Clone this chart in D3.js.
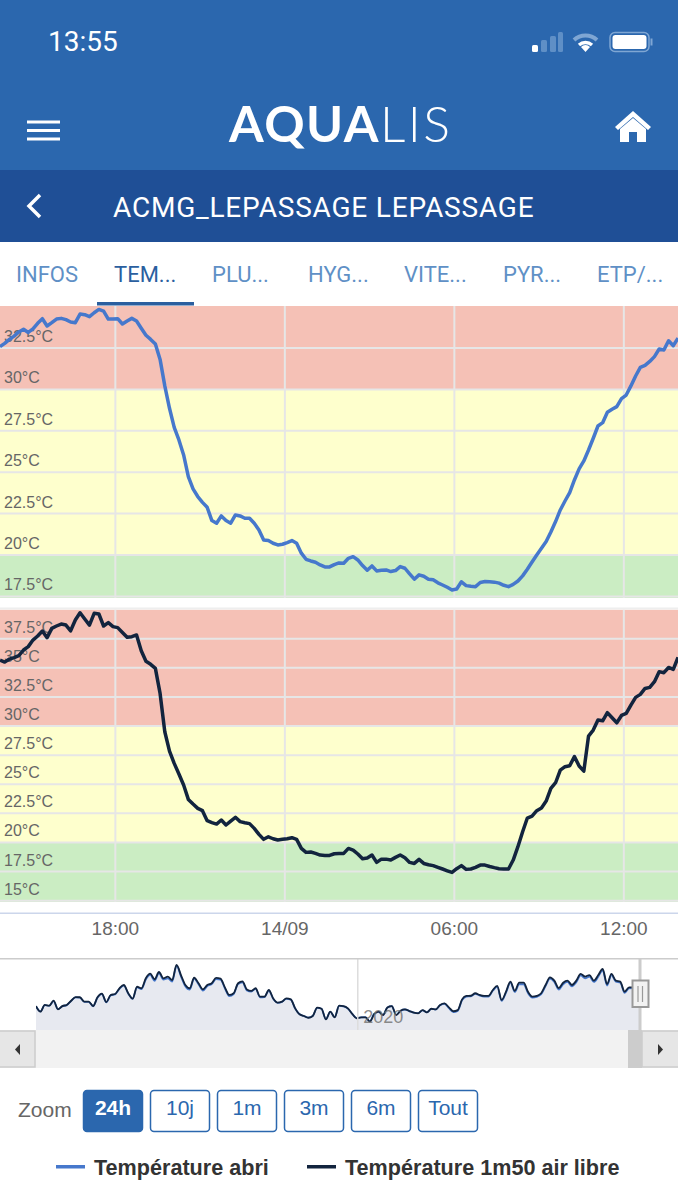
<!DOCTYPE html>
<html>
<head>
<meta charset="utf-8">
<script src="https://cdn.jsdelivr.net/npm/d3@7"></script>
<style>
html, body { margin: 0; padding: 0; background: #fff; }
svg { display: block; }
text { font-family: "Liberation Sans", Arial, sans-serif; }
.domain { display: none; }
</style>
</head>
<body>
<svg width="678" height="1200"></svg>
<script>
//Temperature every 10 minutes, from 13/09 13:55 to 14/09 13:55.
var tempAbri = [
	32.58,32.78,33.02,33.22,33.47,33.63,33.44,33.65,33.99,34.27,33.83,34.03,34.25,34.29,34.21,34.07,34.03,34.55,34.51,34.39,
	34.63,34.83,34.73,34.25,34.25,34.27,33.95,34.13,34.29,34.13,33.69,33.27,33.02,32.74,31.81,30.21,28.86,27.71,26.95,26.04,
	24.73,23.99,23.53,23.18,22.88,22.08,21.92,22.36,22.08,21.92,22.42,22.36,22.22,22.22,21.92,21.51,20.91,20.87,20.71,20.61,
	20.65,20.75,20.87,20.71,20.11,19.74,19.64,19.56,19.40,19.28,19.28,19.42,19.52,19.50,19.80,19.90,19.70,19.36,19.08,19.34,
	19.04,19.08,19.10,19.00,19.06,19.30,19.20,18.86,18.54,18.80,18.72,18.54,18.50,18.32,18.19,18.05,17.89,17.95,18.38,18.15,
	18.11,18.09,18.34,18.40,18.38,18.36,18.30,18.17,18.09,18.23,18.43,18.74,19.14,19.58,20.00,20.41,20.81,21.39,22.02,22.72,
	23.26,23.77,24.53,25.20,25.68,26.34,27.05,27.79,27.99,28.62,28.80,28.96,29.44,29.66,30.21,30.81,31.33,31.45,31.69,31.98,
	32.44,32.38,32.94,32.64,33.10];
var tempAirLibre = [
	35.66,35.49,35.75,35.87,36.04,36.53,36.82,37.38,37.73,38.16,37.59,38.39,38.59,38.76,38.67,38.18,39.10,39.73,39.19,38.67,
	39.68,39.62,38.59,38.88,38.54,38.45,38.04,37.62,37.67,37.82,36.47,35.56,35.30,34.95,32.80,29.51,27.85,26.79,25.88,24.94,
	23.70,23.30,22.93,22.73,21.87,21.70,21.58,21.93,21.50,21.84,22.16,21.79,21.70,21.62,21.21,20.70,20.27,20.49,20.32,20.21,
	20.27,20.32,20.41,20.27,19.49,19.15,19.18,19.06,18.92,18.89,18.89,19.03,19.06,19.06,19.49,19.35,19.01,18.61,18.66,18.92,
	18.29,18.57,18.57,18.49,18.72,18.92,18.69,18.29,18.20,18.55,18.20,18.09,18.01,17.86,17.72,17.57,17.43,17.75,18.01,17.69,
	17.72,17.86,18.06,18.06,17.94,17.84,17.75,17.72,17.72,18.49,19.64,20.92,22.10,22.27,22.73,22.96,23.56,24.65,25.13,26.22,
	26.51,26.59,27.37,26.57,26.13,29.14,29.65,30.52,30.45,31.15,30.71,30.28,30.91,31.08,31.80,32.46,32.72,33.23,33.32,33.81,
	34.67,34.58,35.03,34.86,35.90];
//Navigator: one reading every 4 days, from 14/03/2019.
var navAirLibre = [
	17.5,14.6,18.1,17.7,20.3,15.8,17.5,18.1,20.3,22.2,22.1,19.8,19.8,17.5,22.1,24.0,19.6,23.3,23.8,26.8,
	28.5,24.2,21.4,27.6,26.8,32.0,34.4,31.5,35.3,32.0,32.9,31.1,39.0,33.7,28.5,26.8,32.3,29.4,26.2,28.5,
	29.4,32.2,31.8,27.3,23.3,24.2,29.4,30.4,26.2,25.4,26.8,22.4,22.4,25.9,21.5,19.3,19.8,21.5,21.0,16.3,
	13.2,12.3,11.4,12.3,16.7,16.1,10.6,14.6,11.6,17.7,17.5,16.3,13.4,11.1,11.6,11.6,9.4,13.4,14.6,12.8,
	16.8,17.5,12.8,15.1,15.8,14.9,14.1,13.7,15.4,14.2,16.1,15.8,18.1,18.9,16.8,14.8,15.4,21.0,22.8,22.9,
	24.2,23.3,22.8,22.8,25.9,28.0,20.7,25.0,30.3,25.5,29.7,29.7,25.0,22.4,22.8,24.2,28.5,32.5,30.8,26.9,
	29.7,30.8,28.5,30.8,34.3,32.9,33.7,30.8,33.7,36.9,29.0,34.3,30.8,30.3,25.0,27.3,27.3,26.8,26.5];
var navAbri = [
	17.4,14.7,18.0,17.6,20.1,15.9,17.4,18.0,20.2,22.0,21.9,19.7,19.7,17.4,21.9,23.8,19.5,23.1,23.6,26.5,
	28.2,24.0,21.3,27.3,26.4,31.4,33.8,30.7,34.7,31.3,32.0,30.3,38.6,33.0,27.9,26.1,31.9,28.9,25.6,28.0,
	29.0,31.6,31.3,26.8,22.7,23.8,29.0,29.9,25.7,25.1,26.5,22.1,22.2,25.6,21.3,19.2,19.7,21.3,20.9,16.2,
	13.2,12.3,11.5,12.3,16.6,16.1,10.7,14.5,11.7,17.6,17.4,16.2,13.4,11.2,11.6,11.7,9.6,13.3,14.5,12.8,
	16.7,17.4,12.9,15.0,15.7,14.9,14.1,13.8,15.3,14.2,16.0,15.7,17.9,18.7,16.4,14.4,15.0,20.6,22.5,22.6,
	23.9,23.0,22.5,22.5,25.5,27.5,20.2,24.5,29.7,24.9,28.9,28.9,24.3,21.9,22.3,23.7,27.9,31.8,30.1,26.1,
	28.9,30.1,27.8,30.0,33.5,32.0,32.9,30.1,32.8,36.2,28.2,33.7,30.2,29.8,24.4,26.8,26.9,26.4,26.1];

var tickTimes = [new Date(2020, 8, 13, 18), new Date(2020, 8, 14, 0), new Date(2020, 8, 14, 6), new Date(2020, 8, 14, 12)];
var tickLabels = ['18:00', '14/09', '06:00', '12:00'];
var topTicks = [17.5, 20, 22.5, 25, 27.5, 30, 32.5];
var bottomTicks = [15, 17.5, 20, 22.5, 25, 27.5, 30, 32.5, 35, 37.5];
var tabLabels = ['INFOS', 'TEM...', 'PLU...', 'HYG...', 'VITE...', 'PYR...', 'ETP/...'];
var zoomLabels = ['24h', '10j', '1m', '3m', '6m', 'Tout'];
var seriesNames = ['Température abri', 'Température 1m50 air libre'];

var blue = '#4678cc', navy = '#12243e', grid = '#e6e6e6', label = '#666666';
var svg = d3.select('svg');

//Time scale: the 24h window fills the whole width.
var t0 = new Date(2020, 8, 13, 13, 55);
var t1 = new Date(2020, 8, 14, 13, 55);
var xScale = d3.scaleTime().domain([t0, t1]).range([0, 678]);

//One panel: coloured bands, grid, y labels, then the line on top.
function drawPanel(values, yTicks, yScale, top, bottom, color, id) {
	svg.append('clipPath').attr('id', id).append('rect')
		.attr('x', 0).attr('y', top).attr('width', 678).attr('height', bottom - top);
	var panel = svg.append('g').attr('clip-path', 'url(#' + id + ')');
	//Bands: above 30 red, 20 to 30 yellow, under 20 green.
	var y30 = yScale(30), y20 = yScale(20);
	[[top, y30, '#f5c1b6'], [y30, y20, '#feffcd'], [y20, bottom, '#cbedc3']].forEach(function(b) {
		panel.append('rect')
			.attr('x', 0).attr('y', b[0]).attr('width', 678).attr('height', b[1] - b[0])
			.attr('fill', b[2]);
	});
	var yAxis = panel.append('g')
		.call(d3.axisRight(yScale).tickValues(yTicks).tickSize(678).offset(0)
			.tickFormat(function(d) { return d + '°C'; }));
	yAxis.selectAll('line').attr('stroke', grid).attr('stroke-width', 2);
	yAxis.selectAll('text')
		.attr('x', 4).attr('dy', '-0.38em')
		.style('font-size', '16px').attr('fill', label);
	var xAxis = panel.append('g')
		.attr('transform', 'translate(0,' + top + ')')
		.call(d3.axisBottom(xScale).tickValues(tickTimes).tickSize(bottom - top).offset(0).tickFormat(''));
	xAxis.selectAll('line').attr('stroke', grid).attr('stroke-width', 2);
	var line = d3.line()
		.x(function(d, i) { return xScale(d3.timeMinute.offset(t0, i * 10)); })
		.y(function(d) { return yScale(d); });
	panel.append('path')
		.attr('d', line(values))
		.attr('fill', 'none')
		.attr('stroke', color)
		.attr('stroke-width', 3.5)
		.attr('stroke-linejoin', 'round');
}

//Header, status bar.
svg.append('rect').attr('width', 678).attr('height', 170).attr('fill', '#2b67ae');
svg.append('rect').attr('y', 170).attr('width', 678).attr('height', 72).attr('fill', '#1f4f96');
svg.append('text').attr('x', 48).attr('y', 51).attr('fill', '#fff')
	.style('font-family', 'Roboto').style('font-size', '28px').style('font-weight', 400).text('13:55');
[[532, 45, 6, '#fff'], [541, 40, 6, '#5f8fc6'], [550, 36, 6, '#5f8fc6'], [558, 32, 5, '#5f8fc6']].forEach(function(b) {
	svg.append('rect').attr('x', b[0]).attr('y', b[1]).attr('width', b[2]).attr('height', 52 - b[1])
		.attr('rx', 1.5).attr('fill', b[3]);
});
svg.append('path').attr('d', 'M574 40 A17 17 0 0 1 597 40').attr('fill', 'none').attr('stroke', '#7fa6d3').attr('stroke-width', 4);
svg.append('path').attr('d', 'M579 45 A10 10 0 0 1 592 45').attr('fill', 'none').attr('stroke', '#fff').attr('stroke-width', 3.5);
svg.append('path').attr('d', 'M581 47 L585.5 52 L590 47 A6 6 0 0 0 581 47 Z').attr('fill', '#fff');
svg.append('rect').attr('x', 610).attr('y', 32.5).attr('width', 39).attr('height', 19).attr('rx', 5)
	.attr('fill', 'none').attr('stroke', '#7fa6d3').attr('stroke-width', 1.5);
svg.append('rect').attr('x', 612.5).attr('y', 35).attr('width', 34).attr('height', 14).attr('rx', 3).attr('fill', '#fff');
svg.append('rect').attr('x', 650.5).attr('y', 38.5).attr('width', 2).attr('height', 7).attr('fill', '#7fa6d3');

//Hamburger, logo, home.
[122, 130.5, 139].forEach(function(y) {
	svg.append('rect').attr('x', 27).attr('y', y - 1.5).attr('width', 33).attr('height', 3).attr('fill', '#fff');
});
var logo = svg.append('text').attr('x', 229).attr('y', 142).attr('fill', '#fff')
	.style('font-family', 'Lato').style('font-size', '50px');
logo.append('tspan').style('font-weight', 700).attr('letter-spacing', 1.5).text('AQUA');
logo.append('tspan').style('font-weight', 300).attr('letter-spacing', 2.5).text('LIS');
svg.append('path')
	.attr('d', 'M633 111 L651 127 L648 130 L633 117 L618 130 L615 127 Z M620 129 L633 118 L646 129 L646 142 L637 142 L637 132 L629 132 L629 142 L620 142 Z')
	.attr('fill', '#fff');

//Title bar.
svg.append('path').attr('d', 'M40 195 L29 206 L40 217').attr('fill', 'none').attr('stroke', '#fff').attr('stroke-width', 3.5);
svg.append('text').attr('x', 113).attr('y', 217).attr('fill', '#fff').attr('letter-spacing', 0.8)
	.style('font-family', 'Roboto').style('font-size', '28px').text('ACMG_LEPASSAGE LEPASSAGE');

//Tabs.
var tabX = [16, 114, 212, 308, 404, 503, 597];
svg.selectAll('.tab').data(tabLabels).enter().append('text')
	.attr('class', 'tab')
	.attr('x', function(d, i) { return tabX[i]; })
	.attr('y', 281.5)
	.attr('fill', function(d, i) { return i === 1 ? '#2b5f9f' : '#5f90c6'; })
	.style('font-family', 'Roboto').style('font-size', '22px')
	.text(function(d) { return d; });
svg.append('rect').attr('x', 97).attr('y', 302).attr('width', 97).attr('height', 3.5).attr('fill', '#2b5f9f');

//Both panels.
var yTop = d3.scaleLinear().domain([17.5, 32.5]).range([596.4, 348]);
var yBottom = d3.scaleLinear().domain([15, 37.5]).range([900.7, 638.7]);
drawPanel(tempAbri, topTicks, yTop, 306, 598, blue, 'clipTop');
drawPanel(tempAirLibre, bottomTicks, yBottom, 609.5, 902, navy, 'clipBottom');
svg.append('rect').attr('y', 607.5).attr('width', 678).attr('height', 2).attr('fill', '#eeeeee');

//X axis.
svg.append('rect').attr('y', 912.5).attr('width', 678).attr('height', 1.5).attr('fill', '#ccd6eb');
svg.selectAll('.xlabel').data(tickTimes).enter().append('text')
	.attr('class', 'xlabel')
	.attr('x', function(d) { return xScale(d); })
	.attr('y', 934.5)
	.attr('text-anchor', 'middle')
	.attr('fill', label)
	.style('font-size', '19px')
	.text(function(d, i) { return tickLabels[i]; });

//Navigator.
var navStart = new Date(2019, 2, 14), navEnd = new Date(2020, 8, 14);
var xNav = d3.scaleTime().domain([navStart, navEnd]).range([36, 640]);
var yNav = d3.scaleLinear().domain([5, 40]).range([1030, 963]);
var navX = function(d, i) { return xNav(d3.timeDay.offset(navStart, i * 4)); };
svg.append('clipPath').attr('id', 'clipNav').append('rect')
	.attr('x', 36).attr('y', 958).attr('width', 604).attr('height', 72);
var nav = svg.append('g').attr('clip-path', 'url(#clipNav)');
nav.append('path')
	.attr('d', d3.area().x(navX).y0(1030).y1(function(d) { return yNav(d); }).curve(d3.curveMonotoneX)(navAirLibre))
	.attr('fill', '#e7e9f0');
var navLine = d3.line().x(navX).y(function(d) { return yNav(d); }).curve(d3.curveMonotoneX);
var tick2020 = new Date(2020, 0, 1);
svg.append('line')
	.attr('x1', xNav(tick2020)).attr('x2', xNav(tick2020)).attr('y1', 959).attr('y2', 1030)
	.attr('stroke', '#dddddd').attr('stroke-width', 1.5);
nav.append('path').attr('d', navLine(navAbri)).attr('fill', 'none').attr('stroke', blue).attr('stroke-width', 1.8);
nav.append('path').attr('d', navLine(navAirLibre)).attr('fill', 'none').attr('stroke', navy).attr('stroke-width', 1.8);
svg.append('text')
	.attr('x', xNav(tick2020) + 5.5).attr('y', 1023)
	.attr('fill', '#777777').attr('fill-opacity', 0.85)
	.style('font-size', '18px').text('2020');
svg.append('rect').attr('y', 958).attr('width', 678).attr('height', 1.5).attr('fill', '#cccccc');
svg.append('rect').attr('x', 638.5).attr('y', 959).attr('width', 3).attr('height', 71).attr('fill', '#cccccc');

//Scrollbar.
svg.append('rect').attr('y', 1030).attr('width', 678).attr('height', 38).attr('fill', '#f2f2f2');
svg.append('rect').attr('x', -1).attr('y', 1031).attr('width', 36).attr('height', 36)
	.attr('fill', '#e6e6e6').attr('stroke', '#cccccc').attr('stroke-width', 1.5);
svg.append('rect').attr('x', 642).attr('y', 1031).attr('width', 37).attr('height', 36)
	.attr('fill', '#e6e6e6').attr('stroke', '#cccccc').attr('stroke-width', 1.5);
svg.append('rect').attr('x', 628).attr('y', 1030).attr('width', 14).attr('height', 38).attr('fill', '#cccccc');
svg.append('path').attr('d', 'M20 1044 L15 1049.5 L20 1055 Z').attr('fill', '#333333');
svg.append('path').attr('d', 'M658 1044 L663 1049.5 L658 1055 Z').attr('fill', '#333333');
svg.append('rect').attr('x', 632.5).attr('y', 980.5).attr('width', 16).attr('height', 26.5)
	.attr('fill', '#f2f2f2').attr('stroke', '#999999').attr('stroke-width', 2);
[638, 642.5].forEach(function(x) {
	svg.append('line').attr('x1', x).attr('x2', x).attr('y1', 986).attr('y2', 1002)
		.attr('stroke', '#999999').attr('stroke-width', 1.2);
});

//Zoom buttons.
svg.append('text').attr('x', 18).attr('y', 1117).attr('fill', label)
	.style('font-size', '21px').text('Zoom');
var buttons = svg.selectAll('.zoom').data(zoomLabels).enter().append('g')
	.attr('class', 'zoom')
	.attr('transform', function(d, i) { return 'translate(' + (83.5 + i * 67) + ',1090.5)'; });
buttons.append('rect')
	.attr('width', 59).attr('height', 41).attr('rx', 3.5)
	.attr('fill', function(d, i) { return i === 0 ? '#2b67ae' : '#fff'; })
	.attr('stroke', '#2b67ae').attr('stroke-width', 1.5);
buttons.append('text')
	.attr('x', 29.5).attr('y', 24)
	.attr('text-anchor', 'middle')
	.attr('fill', function(d, i) { return i === 0 ? '#fff' : '#2b67ae'; })
	.style('font-size', '21px')
	.style('font-weight', function(d, i) { return i === 0 ? 700 : 400; })
	.text(function(d) { return d; });

//Legend.
[[56, 94, blue], [307, 345, navy]].forEach(function(l, i) {
	svg.append('rect').attr('x', l[0]).attr('y', 1165).attr('width', 29).attr('height', 3.5).attr('fill', l[2]);
	svg.append('text').attr('x', l[1]).attr('y', 1175).attr('fill', '#333333')
		.style('font-size', '21.6px').style('font-weight', 700).text(seriesNames[i]);
});
</script>
</body>
</html>
